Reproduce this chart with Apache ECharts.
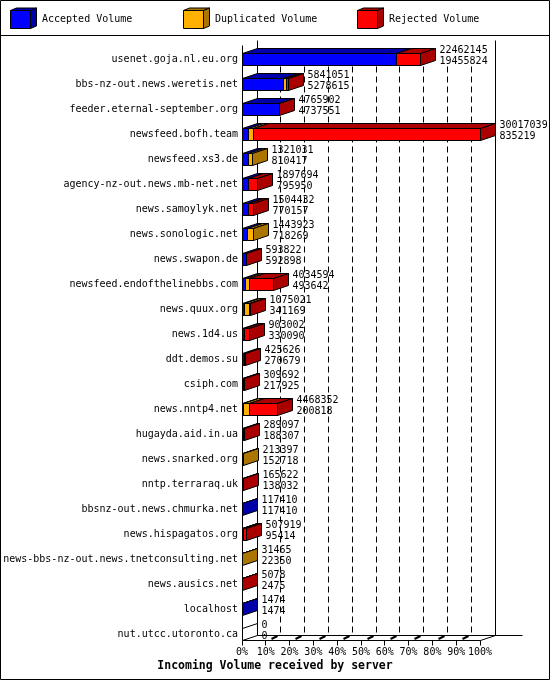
<!DOCTYPE html>
<html>
<head>
<meta charset="utf-8">
<script src="https://cdn.jsdelivr.net/npm/echarts/dist/echarts.min.js"></script>
<style>
html,body{margin:0;padding:0;background:#fff;}
#chart{width:550px;height:680px;}
</style>
</head>
<body>
<div id="chart"></div>
<script>
const hosts = [
  'usenet.goja.nl.eu.org',
  'bbs-nz-out.news.weretis.net',
  'feeder.eternal-september.org',
  'newsfeed.bofh.team',
  'newsfeed.xs3.de',
  'agency-nz-out.news.mb-net.net',
  'news.samoylyk.net',
  'news.sonologic.net',
  'news.swapon.de',
  'newsfeed.endofthelinebbs.com',
  'news.quux.org',
  'news.1d4.us',
  'ddt.demos.su',
  'csiph.com',
  'news.nntp4.net',
  'hugayda.aid.in.ua',
  'news.snarked.org',
  'nntp.terraraq.uk',
  'bbsnz-out.news.chmurka.net',
  'news.hispagatos.org',
  'news-bbs-nz-out.news.tnetconsulting.net',
  'news.ausics.net',
  'localhost',
  'nut.utcc.utoronto.ca'
];
const totalVolume = [22462145, 5841051, 4765902, 30017039, 1321031, 1897694, 1504432, 1443923, 593822, 4034594, 1075021, 903002, 425626, 309692, 4468352, 289097, 213397, 165622, 117410, 507919, 31465, 5078, 1474, 0];
const acceptedVolume = [19455824, 5278615, 4737551, 835219, 810417, 795950, 770157, 718269, 592898, 493642, 341169, 330090, 270679, 217925, 200818, 188307, 152718, 138032, 117410, 95414, 22350, 2475, 1474, 0];
const duplicatedVolume = [0, 300000, 0, 630000, 510614, 0, 50000, 725654, 0, 450000, 630000, 0, 0, 0, 700000, 0, 60679, 0, 0, 150000, 9115, 0, 0, 0];
const rejectedVolume = [3006321, 262436, 28351, 28551820, 0, 1101744, 684275, 0, 924, 3090952, 103852, 572912, 154947, 91767, 3567534, 100790, 0, 27590, 0, 262505, 0, 2603, 0, 0];
const seriesNames = ['Accepted Volume', 'Duplicated Volume', 'Rejected Volume'];
const xTickPercents = [0, 10, 20, 30, 40, 50, 60, 70, 80, 90, 100];
const axisTitle = 'Incoming Volume received by server';

const frontColors = ['#0000ff', '#ffb000', '#ff0000'];
const darkColors = ['#0000aa', '#aa7500', '#aa0000'];
const FONT = '"DejaVu Sans Mono", "Liberation Mono", monospace';
const DX = 15, DY = -5, BAR_H = 12;

const segs = [acceptedVolume, duplicatedVolume, rejectedVolume];
const maxTotal = Math.max.apply(null, totalVolume);

function lastNonZero(i) {
  for (let k = 2; k >= 0; k--) if (segs[k][i] > 0) return k;
  return -1;
}
function segData(k) {
  return hosts.map(function (h, i) {
    let s = 0;
    for (let j = 0; j < k; j++) s += segs[j][i];
    return [s, s + segs[k][i], i];
  });
}
function barBox(api, i) {
  const c = api.coord([0, i]);
  const yTop = Math.floor(c[1] - BAR_H / 2) + 0.5;
  return { yTop: yTop, yBot: yTop + BAR_H };
}
function xpx(api, v, i) {
  return Math.floor(api.coord([v, i])[0]) + 0.5;
}

function makeRender(k) {
  return function (params, api) {
    const i = api.value(2);
    const s = api.value(0), e = api.value(1);
    const x0 = xpx(api, s, i), x1 = xpx(api, e, i);
    const b = barBox(api, i);
    const children = [];
    const last = lastNonZero(i);
    if (e > s) {
      children.push({
        type: 'rect',
        shape: { x: x0, y: b.yTop, width: x1 - x0, height: b.yBot - b.yTop },
        style: { fill: frontColors[k], stroke: '#000', lineWidth: 1 }
      });
      children.push({
        type: 'polygon',
        shape: { points: [[x0, b.yTop], [x0 + DX, b.yTop + DY], [x1 + DX, b.yTop + DY], [x1, b.yTop]] },
        style: { fill: darkColors[k], stroke: '#000', lineWidth: 1 }
      });
    }
    if (last === k || (last === -1 && k === 0)) {
      children.push({
        type: 'polygon',
        shape: { points: [[x1, b.yTop], [x1 + DX, b.yTop + DY], [x1 + DX, b.yBot + DY], [x1, b.yBot]] },
        style: { fill: last === -1 ? '#ffffff' : darkColors[k], stroke: '#000', lineWidth: 1 }
      });
    }
    return { type: 'group', children: children };
  };
}

function renderLabels(params, api) {
  const i = api.value(1);
  const x1 = xpx(api, api.value(0), i);
  const b = barBox(api, i);
  const cy = (b.yTop + b.yBot) / 2;
  const tx = x1 + DX + 4;
  return {
    type: 'group',
    children: [
      { type: 'text', style: { text: String(totalVolume[i]), x: tx, y: cy - 9.3, fill: '#000', fontSize: 10, fontFamily: FONT, align: 'left', verticalAlign: 'middle' } },
      { type: 'text', style: { text: String(acceptedVolume[i]), x: tx, y: cy + 1.9, fill: '#000', fontSize: 10, fontFamily: FONT, align: 'left', verticalAlign: 'middle' } }
    ]
  };
}

function renderFrame(params, api) {
  const n = hosts.length;
  const xL = xpx(api, 0, 0);
  const xR = xpx(api, maxTotal, 0);
  const top = barBox(api, 0);
  const bot = barBox(api, n - 1);
  const yTopFront = top.yTop - 8;
  const yTopBack = yTopFront + DY;
  const yFloor = bot.yBot;
  const yFloorBack = yFloor + DY;
  const ln = function (x1, y1, x2, y2, extra) {
    return {
      type: 'line',
      shape: { x1: x1, y1: y1, x2: x2, y2: y2 },
      style: Object.assign({ stroke: '#000', lineWidth: 1 }, extra || {})
    };
  };
  const children = [];
  xTickPercents.forEach(function (p) {
    const x = xpx(api, p / 100 * maxTotal, 0);
    if (p > 0 && p < 100) {
      children.push(ln(x + DX, yTopBack + 26, x + DX, yFloorBack, { lineDash: [6, 4] }));
      children.push(ln(x + 6, yFloor - 1.5, x + 12, yFloor - 4.5, { lineWidth: 2 }));
    }
    children.push(ln(x, yFloor, x, yFloor + 5));
  });
  children.push(ln(xL, yTopFront, xL, yFloor));
  children.push(ln(xL + DX, yTopBack, xL + DX, yFloorBack));
  children.push(ln(xR + DX, yTopBack, xR + DX, yFloorBack));
  children.push(ln(xL, yFloor, xR, yFloor));
  children.push(ln(xL + DX, yFloorBack, xR + DX + 27, yFloorBack));
  children.push(ln(xR, yFloor, xR + DX, yFloorBack));
  return { type: 'group', children: children };
}

function legendCube(L, k) {
  const x0 = L + 0.5, y0 = 10.5, w = 20, h = 18, dx = 6, dy = -2.5;
  return {
    type: 'group',
    children: [
      { type: 'rect', shape: { x: x0, y: y0, width: w, height: h }, style: { fill: frontColors[k], stroke: '#000', lineWidth: 1 } },
      { type: 'polygon', shape: { points: [[x0, y0], [x0 + dx, y0 + dy], [x0 + w + dx, y0 + dy], [x0 + w, y0]] }, style: { fill: darkColors[k], stroke: '#000', lineWidth: 1 } },
      { type: 'polygon', shape: { points: [[x0 + w, y0], [x0 + w + dx, y0 + dy], [x0 + w + dx, y0 + h + dy], [x0 + w, y0 + h]] }, style: { fill: darkColors[k], stroke: '#000', lineWidth: 1 } }
    ]
  };
}

const legendLefts = [10, 183, 357];
const chart = echarts.init(document.getElementById('chart'), null, { renderer: 'canvas' });

const option = {
  backgroundColor: '#ffffff',
  animation: false,
  title: {
    text: axisTitle,
    left: 'center',
    top: 660,
    padding: 0,
    textStyle: { fontFamily: FONT, fontWeight: 'bold', fontSize: 11.5, color: '#000' }
  },
  legend: seriesNames.map(function (name, k) {
    return {
      data: [name],
      left: legendLefts[k],
      top: 9,
      padding: 0,
      itemWidth: 27,
      itemHeight: 20,
      icon: 'rect',
      selectedMode: false,
      itemStyle: { opacity: 0 },
      textStyle: { fontFamily: FONT, fontSize: 10, color: '#000' }
    };
  }),
  grid: { left: 242, right: 70, top: 47, bottom: 33, outerBoundsMode: 'none', containLabel: false },
  xAxis: {
    type: 'value',
    min: 0,
    max: maxTotal,
    interval: maxTotal / 10,
    axisLine: { show: false },
    axisTick: { show: false },
    splitLine: { show: false },
    axisLabel: {
      margin: 0,
      fontFamily: FONT,
      fontSize: 10,
      color: '#000',
      formatter: function (v) { return Math.round(v / maxTotal * 100) + '%'; }
    }
  },
  yAxis: {
    type: 'category',
    inverse: true,
    data: hosts,
    axisLine: { show: false },
    axisTick: { show: false },
    splitLine: { show: false },
    axisLabel: { interval: 0, margin: 4, fontFamily: FONT, fontSize: 10, color: '#000' }
  },
  graphic: [
    { type: 'rect', shape: { x: 0.5, y: 0.5, width: 549, height: 679 }, style: { fill: 'none', stroke: '#000', lineWidth: 1 }, z: 100 },
    { type: 'line', shape: { x1: 0, y1: 35.5, x2: 550, y2: 35.5 }, style: { stroke: '#000', lineWidth: 1 }, z: 100 }
  ].concat(legendLefts.map(function (L, k) { return legendCube(L, k); })),
  series: [
    {
      type: 'custom',
      name: 'frame',
      z: 1,
      silent: true,
      renderItem: renderFrame,
      encode: { x: 0, y: 1 },
      data: [[0, 0]]
    }
  ].concat(seriesNames.map(function (name, k) {
    return {
      type: 'custom',
      name: name,
      z: 2,
      itemStyle: { color: frontColors[k] },
      renderItem: makeRender(k),
      encode: { x: [0, 1], y: 2 },
      data: segData(k)
    };
  })).concat([
    {
      type: 'custom',
      name: 'labels',
      z: 3,
      silent: true,
      renderItem: renderLabels,
      encode: { x: 0, y: 1 },
      data: totalVolume.map(function (t, i) { return [t, i]; })
    }
  ])
};
chart.setOption(option);
</script>
</body>
</html>
